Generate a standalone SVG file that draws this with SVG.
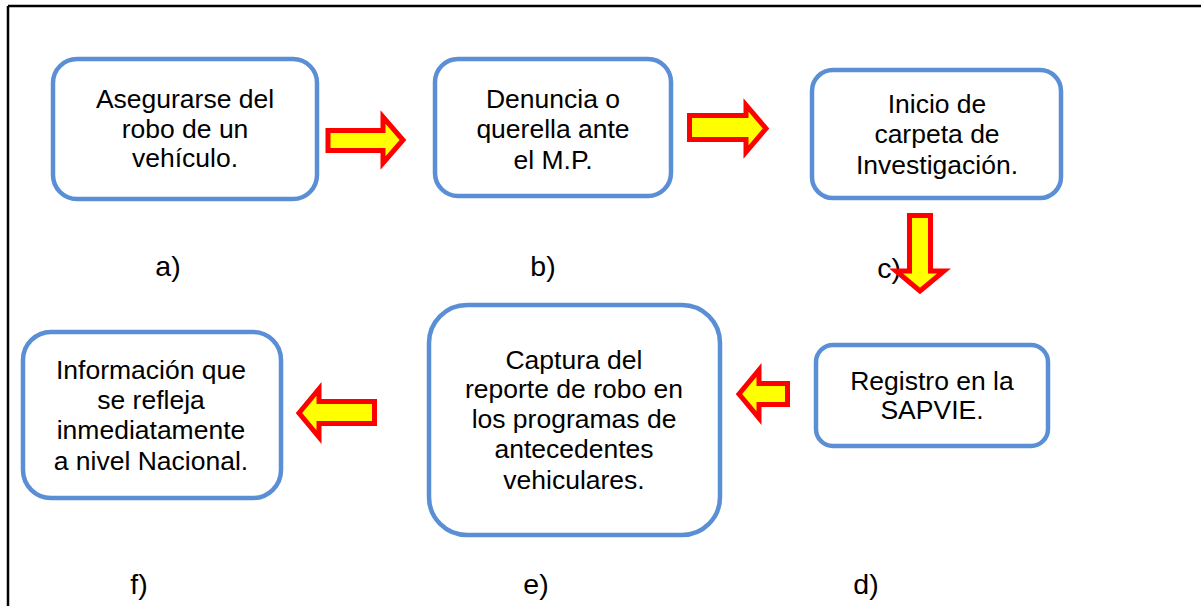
<svg xmlns="http://www.w3.org/2000/svg" width="1201" height="606" viewBox="0 0 1201 606">
<style>
.box{fill:#fff;stroke:#5B8FD5;stroke-width:4.5}
.t{font-family:"Liberation Sans",Arial,sans-serif;font-size:26.5px;fill:#000;text-anchor:middle}
.lbl{font-family:"Liberation Sans",Arial,sans-serif;font-size:28.5px;fill:#000;text-anchor:middle}
.arr{fill:#FFFF00;stroke:#FF0000;stroke-width:5;stroke-linejoin:miter}
</style>
<rect width="1201" height="606" fill="#fff"/>
<g id="frame" stroke="#000" stroke-width="2.5" fill="none">
<line x1="8" y1="6" x2="1201" y2="6"/>
<line x1="8" y1="6" x2="8" y2="606"/>
</g>
<g id="node-a">
<rect class="box" x="53" y="59" width="264" height="140" rx="24"/>
<text class="t" x="185" y="108">Asegurarse del</text>
<text class="t" x="185" y="138">robo de un</text>
<text class="t" x="185" y="167">vehículo.</text>
</g>
<g id="node-b">
<rect class="box" x="435" y="59" width="236" height="137" rx="23"/>
<text class="t" x="553" y="108">Denuncia o</text>
<text class="t" x="553" y="138">querella ante</text>
<text class="t" x="553" y="169">el M.P.</text>
</g>
<g id="node-c">
<rect class="box" x="812" y="70" width="249" height="128" rx="21"/>
<text class="t" x="937" y="113">Inicio de</text>
<text class="t" x="937" y="143">carpeta de</text>
<text class="t" x="937" y="174">Investigación.</text>
</g>
<g id="node-d">
<rect class="box" x="816" y="345" width="232" height="101" rx="17"/>
<text class="t" x="932" y="390">Registro en la</text>
<text class="t" x="932" y="419">SAPVIE.</text>
</g>
<g id="node-e">
<rect class="box" x="429" y="305" width="291" height="230" rx="38"/>
<text class="t" x="574" y="369">Captura del</text>
<text class="t" x="574" y="398">reporte de robo en</text>
<text class="t" x="574" y="428">los programas de</text>
<text class="t" x="574" y="458">antecedentes</text>
<text class="t" x="574" y="489">vehiculares.</text>
</g>
<g id="node-f">
<rect class="box" x="23" y="332" width="258" height="166" rx="28"/>
<text class="t" x="151" y="379">Información que</text>
<text class="t" x="151" y="409">se refleja</text>
<text class="t" x="151" y="439">inmediatamente</text>
<text class="t" x="151" y="470">a nivel Nacional.</text>
</g>
<g id="labels">
<text class="lbl" x="168" y="276">a)</text>
<text class="lbl" x="543" y="276">b)</text>
<text class="lbl" x="889" y="278">c)</text>
<text class="lbl" x="866" y="594">d)</text>
<text class="lbl" x="536" y="594">e)</text>
<text class="lbl" x="139" y="594">f)</text>
</g>
<g id="connectors">
<polygon class="arr" points="328,130.5 383,130.5 383,117 403,140 383,163 383,150.5 328,150.5"/>
<polygon class="arr" points="689.5,115.5 746,115.5 746,105 766,128.5 746,152 746,139.5 689.5,139.5"/>
<polygon class="arr" points="909.5,215.5 930.5,215.5 930.5,271 944,271 920,291 896,271 909.5,271"/>
<polygon class="arr" points="739,394 759,370 759,383.5 787.5,383.5 787.5,404.5 759,404.5 759,418"/>
<polygon class="arr" points="299,413 319,389 319,401.5 374.5,401.5 374.5,423.5 319,423.5 319,437"/>
</g>
</svg>
